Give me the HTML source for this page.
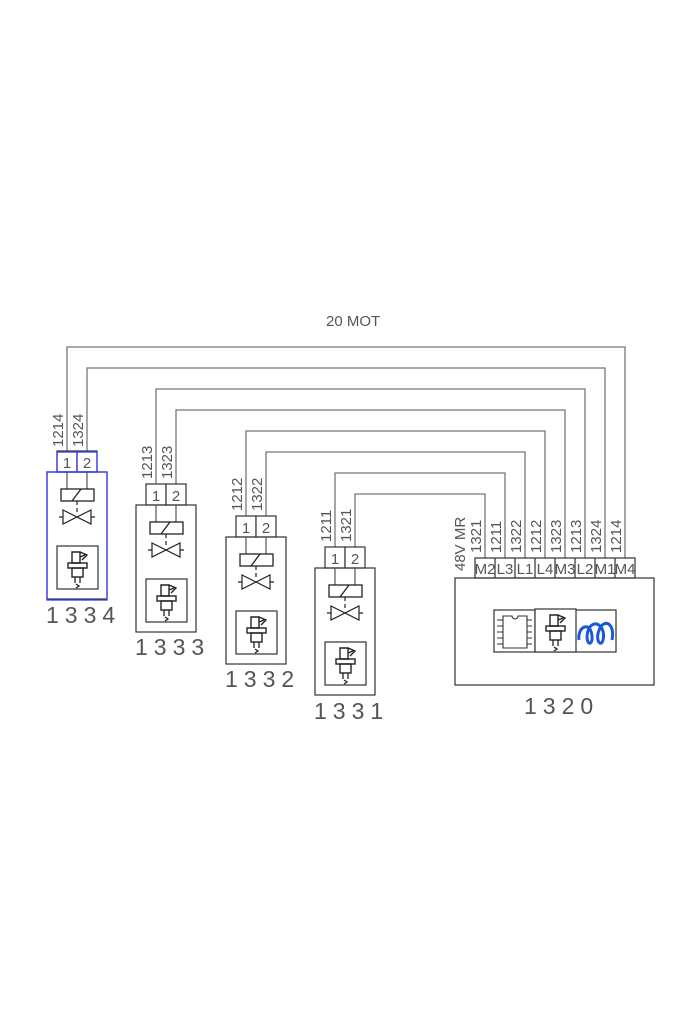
<!DOCTYPE html>
<html><head><style>
html,body{margin:0;padding:0;background:#fff}
svg{display:block}
text{font-family:"Liberation Sans Narrow","Liberation Sans",sans-serif;fill:#555}
</style></head><body>
<svg width="700" height="1020" viewBox="0 0 700 1020" xmlns="http://www.w3.org/2000/svg">
<defs>
<g id="inj">
 <rect x="0" y="0" width="41" height="43" fill="#fff" stroke="#333" stroke-width="1.2"/>
 <path d="M15 6 h8 v11 h-8z M23 6 l7 3 l-5 5 M23 11 l5 -2" fill="none" stroke="#222" stroke-width="1.4"/>
 <rect x="11" y="17" width="19" height="5" fill="none" stroke="#222" stroke-width="1.4"/>
 <rect x="15" y="22" width="11" height="9" fill="none" stroke="#222" stroke-width="1.4"/>
 <path d="M18 31 v6 M23 31 v6 M19 38 l3 2 l-3 2" fill="none" stroke="#222" stroke-width="1.3"/>
</g>
<g id="conn">
 <rect x="10" y="-21" width="20" height="21" fill="#fff" stroke="#333" stroke-width="1.2"/>
 <rect x="30" y="-21" width="20" height="21" fill="#fff" stroke="#333" stroke-width="1.2"/>
 <text x="20" y="-4" font-size="15" text-anchor="middle">1</text>
 <text x="40" y="-4" font-size="15" text-anchor="middle">2</text>
 <rect x="0" y="0" width="60" height="127" fill="none" stroke="#333" stroke-width="1.2"/>
 <path d="M20 0 v17 M40 0 v17" stroke="#555" stroke-width="1.2"/>
 <rect x="14" y="17" width="33" height="12" fill="#fff" stroke="#222" stroke-width="1.3"/>
 <path d="M25 29 l9 -12" stroke="#222" stroke-width="1.3"/>
 <path d="M30 29 v11" stroke="#222" stroke-width="1.2" stroke-dasharray="4,3"/>
 <path d="M16 38 L44 52 L44 38 L16 52 Z M16 40 v10 M12 45 h4 M44 40 v10 M44 45 h4" fill="none" stroke="#222" stroke-width="1.2"/>
 <use href="#inj" x="10" y="74"/>
</g>
</defs>
<text x="326" y="326" font-size="15">20 MOT</text>
<g fill="none" stroke="#777" stroke-width="1.3">
 <path d="M67 452 V347 H625 V558"/>
 <path d="M87 452 V368 H605 V558"/>
 <path d="M156 484 V389 H585 V558"/>
 <path d="M176 484 V410 H565 V558"/>
 <path d="M246 516 V431 H545 V558"/>
 <path d="M266 516 V452 H525 V558"/>
 <path d="M335 547 V473 H505 V558"/>
 <path d="M355 547 V494 H485 V558"/>
</g>
<g font-size="15">
 <text transform="translate(63,447) rotate(-90)">1214</text>
 <text transform="translate(83,447) rotate(-90)">1324</text>
 <text transform="translate(152,479) rotate(-90)">1213</text>
 <text transform="translate(172,479) rotate(-90)">1323</text>
 <text transform="translate(242,511) rotate(-90)">1212</text>
 <text transform="translate(262,511) rotate(-90)">1322</text>
 <text transform="translate(331,542) rotate(-90)">1211</text>
 <text transform="translate(351,542) rotate(-90)">1321</text>
 <text transform="translate(481,553) rotate(-90)">1321</text>
 <text transform="translate(465,571) rotate(-90)">48V MR</text>
 <text transform="translate(501,553) rotate(-90)">1211</text>
 <text transform="translate(521,553) rotate(-90)">1322</text>
 <text transform="translate(541,553) rotate(-90)">1212</text>
 <text transform="translate(561,553) rotate(-90)">1323</text>
 <text transform="translate(581,553) rotate(-90)">1213</text>
 <text transform="translate(601,553) rotate(-90)">1324</text>
 <text transform="translate(621,553) rotate(-90)">1214</text>
</g>
<use href="#conn" transform="translate(47,472)"/>
<rect x="47" y="472" width="60" height="128" fill="none" stroke="#3a3af0" stroke-width="1.3"/>
<rect x="57" y="452" width="40" height="20" fill="none" stroke="#3a3af0" stroke-width="1.3"/>
<line x1="77" y1="452" x2="77" y2="472" stroke="#3a3af0" stroke-width="1.3"/>
<use href="#conn" transform="translate(136,505)"/>
<use href="#conn" transform="translate(226,537)"/>
<use href="#conn" transform="translate(315,568)"/>
<g font-size="23" letter-spacing="6">
 <text x="46" y="623">1334</text>
 <text x="135" y="655">1333</text>
 <text x="225" y="687">1332</text>
 <text x="314" y="719">1331</text>
 <text x="524" y="714">1320</text>
</g>
<g font-size="15" text-anchor="middle">
 <rect x="475" y="558" width="160" height="20" fill="#fff" stroke="#333" stroke-width="1.2"/>
 <path d="M495 558v20M515 558v20M535 558v20M555 558v20M575 558v20M595 558v20M615 558v20" stroke="#333" stroke-width="1.2"/>
 <text x="485" y="574">M2</text><text x="505" y="574">L3</text><text x="525" y="574">L1</text><text x="545" y="574">L4</text>
 <text x="565" y="574">M3</text><text x="585" y="574">L2</text><text x="605" y="574">M1</text><text x="625" y="574">M4</text>
</g>
<rect x="455" y="578" width="199" height="107" fill="none" stroke="#333" stroke-width="1.2"/>
<rect x="494" y="610" width="122" height="42" fill="none" stroke="#333" stroke-width="1.2"/>
<path d="M535 610v42M575 610v42" stroke="#333" stroke-width="1.2"/>
<path d="M503 616 h9 a3 3 0 0 0 6 0 h9 v32 h-24z M497 620h6M497 626h6M497 632h6M497 638h6M497 644h6M527 620h5M527 626h5M527 632h5M527 638h5M527 644h5" fill="none" stroke="#333" stroke-width="1.1"/>
<use href="#inj" x="535" y="609"/>
<path d="M579 640 C577 625 593 620 592 640 C590 648 584 640 589 628 C596 618 606 628 603 640 C601 648 594 640 600 628 C606 618 615 625 612 640" fill="none" stroke="#1a5ad8" stroke-width="3"/>
</svg>
</body></html>
